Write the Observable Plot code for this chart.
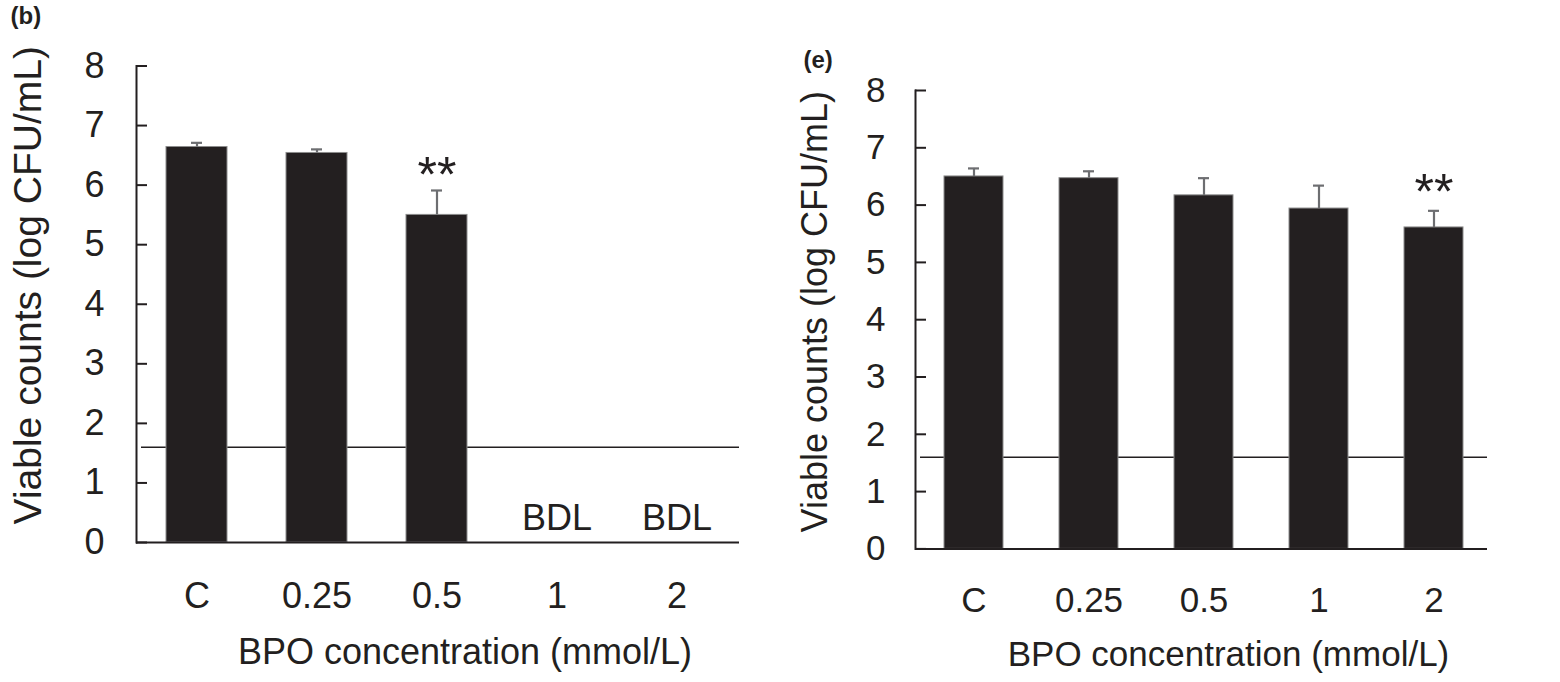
<!DOCTYPE html>
<html>
<head>
<meta charset="utf-8">
<script src="https://cdn.jsdelivr.net/npm/d3@7"></script>
<script src="https://cdn.jsdelivr.net/npm/@observablehq/plot@0.6"></script>
<style>
  html, body { margin: 0; padding: 0; background: #fff; }
  #figure { position: relative; width: 1560px; height: 682px; font-family: "Liberation Sans", Arial, sans-serif; }
  #figure > div { position: absolute; top: 0; }
  #panelB { left: 0; }
  #panelE { left: 780px; }
</style>
</head>
<body>
<div id="figure">
  <div id="panelB"></div>
  <div id="panelE"></div>
</div>
<script>
// BPO concentrations (mmol/L); "C" is the untreated control
const concentrations = ["C", "0.25", "0.5", "1", "2"];
const yTicks = [0, 1, 2, 3, 4, 5, 6, 7, 8];
const detectionLimit = 1.6; // log CFU/mL

// Panel (b): viable counts, null = below detection limit
const countsB = [6.64, 6.54, 5.50, null, null];
const errorsB = [0.07, 0.06, 0.41, null, null];
const significantB = [false, false, true, false, false];

// Panel (e)
const countsE = [6.50, 6.47, 6.17, 5.94, 5.61];
const errorsE = [0.14, 0.12, 0.30, 0.40, 0.29];
const significantE = [false, false, false, false, true];

const ink = "#231f20";
const errInk = "#6d6e71";

function panel({letter, counts, errors, significant, width, height, margins, xOpts, capInset,
                fonts, letterOffset, xTitleOffset, yTitleOffset, tickPad, xTickPad, starOffset}) {
  const rows = concentrations.map((c, i) => ({
    conc: c, value: counts[i], err: errors[i], sig: significant[i]
  }));
  const measured = rows.filter(d => d.value != null);
  const bdl = rows.filter(d => d.value == null);
  const sig = rows.filter(d => d.sig);
  const frameWidth = width - margins.left - margins.right;

  return Plot.plot({
    width, height,
    marginLeft: margins.left, marginRight: margins.right,
    marginTop: margins.top, marginBottom: margins.bottom,
    style: {fontFamily: '"Liberation Sans", Arial, sans-serif', color: ink, background: "transparent", overflow: "visible"},
    x: {domain: concentrations, ...xOpts},
    y: {domain: [0, 8]},
    marks: [
      // detection limit
      Plot.ruleY([detectionLimit], {stroke: ink, strokeWidth: 1.6, insetLeft: 5}),
      // bars
      Plot.barY(measured, {x: "conc", y: "value", fill: ink, stroke: "#8c8c8c", strokeWidth: 1}),
      // upper error bars with caps
      Plot.ruleX(measured, {x: "conc", y1: "value", y2: d => d.value + d.err, stroke: errInk, strokeWidth: 2.2}),
      Plot.tickY(measured, {x: "conc", y: d => d.value + d.err, stroke: errInk, strokeWidth: 2.2,
                            insetLeft: capInset, insetRight: capInset}),
      // significance markers
      Plot.text(sig, {x: "conc", y: d => d.value + d.err, text: () => "**", dy: starOffset,
                      fontSize: fonts.star, fill: ink}),
      // below detection limit labels
      Plot.text(bdl, {x: "conc", y: () => 0, text: () => "BDL", dy: -24, fontSize: fonts.tick, fill: ink}),
      // axis lines
      Plot.frame({anchor: "left", stroke: ink, strokeWidth: 2}),
      Plot.ruleY([0], {stroke: ink, strokeWidth: 2}),
      // y ticks pointing inward
      Plot.tickY(yTicks, {y: d => d, stroke: ink, strokeWidth: 2, insetRight: frameWidth - 11}),
      // y tick labels
      Plot.axisY(yTicks, {anchor: "left", tickSize: 0, tickPadding: tickPad, tickFormat: d => `${d}`,
                          fontSize: fonts.tick, fill: ink, label: null}),
      // x labels
      Plot.axisX({anchor: "bottom", tickSize: 0, tickPadding: xTickPad, fontSize: fonts.tick, fill: ink, label: null}),
      // titles
      Plot.text(["BPO concentration (mmol/L)"], {frameAnchor: "bottom", textAnchor: "middle", lineAnchor: "middle",
                 dx: xTitleOffset.dx, dy: xTitleOffset.dy, fontSize: fonts.xTitle, fill: ink}),
      Plot.text(["Viable counts (log CFU/mL)"], {frameAnchor: "left", textAnchor: "middle", lineAnchor: "middle",
                 rotate: -90, dx: yTitleOffset.dx, dy: yTitleOffset.dy, fontSize: fonts.yTitle, fill: ink}),
      Plot.text([letter], {frameAnchor: "top-left", textAnchor: "start", lineAnchor: "top",
                 dx: letterOffset.dx, dy: letterOffset.dy, fontSize: 24, fontWeight: "bold", fill: ink})
    ]
  });
}

document.getElementById("panelB").appendChild(panel({
  letter: "(b)", counts: countsB, errors: errorsB, significant: significantB,
  width: 780, height: 682,
  margins: {left: 136, right: 41, top: 65.5, bottom: 140},
  xOpts: {paddingInner: 0.49, paddingOuter: 0.2575, align: 0.484},
  capInset: 25,
  fonts: {tick: 36, xTitle: 36, yTitle: 39, star: 50},
  tickPad: 32, xTickPad: 40, starOffset: -14.5,
  xTitleOffset: {dx: 27, dy: 110},
  yTitleOffset: {dx: -108, dy: -19},
  letterOffset: {dx: -126, dy: -59}
}));

document.getElementById("panelE").appendChild(panel({
  letter: "(e)", counts: countsE, errors: errorsE, significant: significantE,
  width: 780, height: 682,
  margins: {left: 135, right: 73, top: 90, bottom: 133.6},
  xOpts: {paddingInner: 0.49, paddingOuter: 0.219, align: 0.55},
  capInset: 24,
  fonts: {tick: 35, xTitle: 35, yTitle: 36, star: 50},
  tickPad: 30, xTickPad: 38, starOffset: -17.5,
  xTitleOffset: {dx: 27, dy: 106},
  yTitleOffset: {dx: -100, dy: -8},
  letterOffset: {dx: -112, dy: -40}
}));
</script>
</body>
</html>
